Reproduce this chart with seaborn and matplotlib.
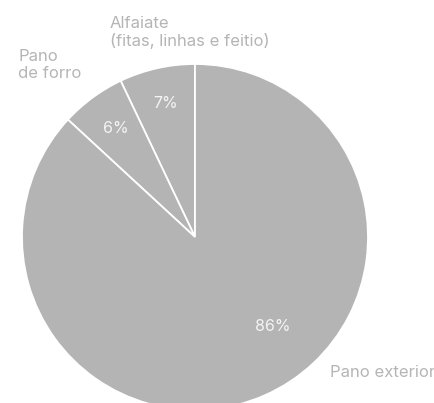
import matplotlib
matplotlib.use("Agg")
import matplotlib.pyplot as plt
import seaborn as sns

# Cost breakdown of a garment
categories = ["Alfaiate\n(fitas, linhas e feitio)", "Pano\nde forro", "Pano exterior"]
shares = [7, 6, 86]
pct_labels = ["7%", "6%", "86%"]

sns.set_theme(style="white")
plt.rcParams["font.family"] = ["Inter", "DejaVu Sans"]

slice_color = "#b3b4b3"
label_color = "#b5b5b5"

fig = plt.figure(figsize=(4.35, 4.03), dpi=100)
ax = fig.add_axes([0, 0, 1, 1])

wedges, _ = ax.pie(
    shares,
    colors=[slice_color] * len(shares),
    startangle=90,
    counterclock=True,
    radius=1.0,
    wedgeprops=dict(edgecolor="white", linewidth=1.3),
)

# percentage labels inside the slices
pct_pos = [(-0.168, 0.77), (-0.46, 0.63), (0.45, -0.52)]
for (x, y), t in zip(pct_pos, pct_labels):
    ax.text(x, y, t, ha="center", va="center", color="#f4f4f4",
            fontsize=11.5)

# category labels outside the pie
cat_pos = [(-0.491, 1.182), (-1.023, 0.994), (0.78, -0.786)]
for (x, y), t in zip(cat_pos, categories):
    ax.text(x, y, t, ha="left", va="center", color=label_color,
            fontsize=12, linespacing=1.2)

ax.set_xlim(-195 / 173, 240 / 173)
ax.set_ylim(-166 / 173, 237 / 173)
ax.set_aspect("equal")
ax.axis("off")

fig.savefig("out.png", dpi=100, facecolor="white")
